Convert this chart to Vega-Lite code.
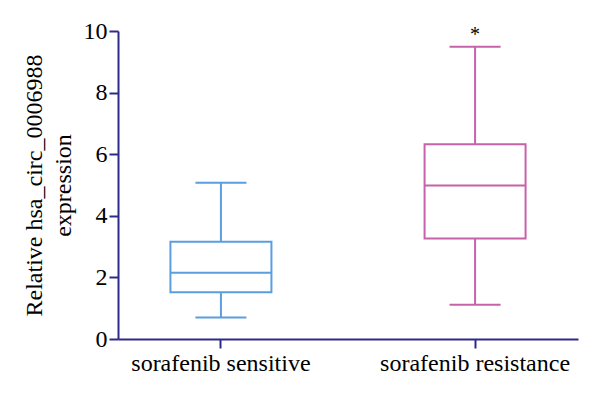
{
  "$schema": "https://vega.github.io/schema/vega-lite/v6.json",
  "width": 460,
  "height": 308,
  "autosize": "none",
  "padding": {"left": 118, "top": 31, "right": 22, "bottom": 55},
  "background": "white",
  "data": {"values": [
    {"group": "sorafenib sensitive", "lower": 0.70, "q1": 1.52, "median": 2.15, "q3": 3.16, "upper": 5.07, "sig": ""},
    {"group": "sorafenib resistance", "lower": 1.11, "q1": 3.26, "median": 4.98, "q3": 6.32, "upper": 9.49, "sig": "*"}
  ]},
  "config": {
    "view": {"stroke": null},
    "font": "Liberation Serif"
  },
  "encoding": {
    "x": {
      "field": "group", "type": "nominal", "sort": ["sorafenib sensitive", "sorafenib resistance"],
      "scale": {"paddingInner": 0.6, "paddingOuter": 0.205},
      "axis": {"title": null, "labelAngle": 0, "labelFont": "Liberation Serif", "labelFontSize": 24, "labelColor": "black", "labelLimit": 0,
        "domainColor": "#2e2a88", "domainWidth": 2, "tickColor": "#2e2a88", "tickWidth": 2, "tickSize": 9, "labelPadding": 3}
    },
    "color": {
      "field": "group", "type": "nominal", "legend": null,
      "scale": {"domain": ["sorafenib sensitive", "sorafenib resistance"], "range": ["#5a9ee0", "#c762a8"]}
    }
  },
  "layer": [
    {
      "mark": {"type": "rule", "strokeWidth": 2},
      "encoding": {
        "y": {"field": "lower", "type": "quantitative", "scale": {"domain": [0, 10]},
          "axis": {"title": ["Relative hsa_circ_0006988", "expression"], "values": [0, 2, 4, 6, 8, 10], "grid": false,
            "labelFont": "Liberation Serif", "labelFontSize": 24, "labelColor": "black", "labelPadding": 2,
            "titleFont": "Liberation Serif", "titleFontSize": 24, "titleFontWeight": "normal", "titleColor": "black", "titlePadding": 8,
            "titleLineHeight": 29,
            "domainColor": "#2e2a88", "domainWidth": 2, "tickColor": "#2e2a88", "tickWidth": 2, "tickSize": 9}},
        "y2": {"field": "q1"}
      }
    },
    {
      "mark": {"type": "rule", "strokeWidth": 2},
      "encoding": {
        "y": {"field": "q3", "type": "quantitative"},
        "y2": {"field": "upper"}
      }
    },
    {
      "mark": {"type": "bar", "fill": "white", "strokeWidth": 2, "width": 101},
      "encoding": {
        "y": {"field": "q1", "type": "quantitative"},
        "y2": {"field": "q3"},
        "stroke": {"field": "group", "type": "nominal", "legend": null,
          "scale": {"domain": ["sorafenib sensitive", "sorafenib resistance"], "range": ["#5a9ee0", "#c762a8"]}}
      }
    },
    {
      "mark": {"type": "tick", "thickness": 2, "size": 101, "opacity": 1},
      "encoding": {"y": {"field": "median", "type": "quantitative"}}
    },
    {
      "mark": {"type": "tick", "thickness": 2, "size": 51, "opacity": 1},
      "encoding": {"y": {"field": "upper", "type": "quantitative"}}
    },
    {
      "mark": {"type": "tick", "thickness": 2, "size": 51, "opacity": 1},
      "encoding": {"y": {"field": "lower", "type": "quantitative"}}
    },
    {
      "mark": {"type": "text", "font": "Liberation Serif", "fontSize": 20, "dy": -12, "baseline": "middle"},
      "encoding": {
        "y": {"field": "upper", "type": "quantitative"},
        "text": {"field": "sig"},
        "color": {"value": "black"}
      }
    }
  ]
}
